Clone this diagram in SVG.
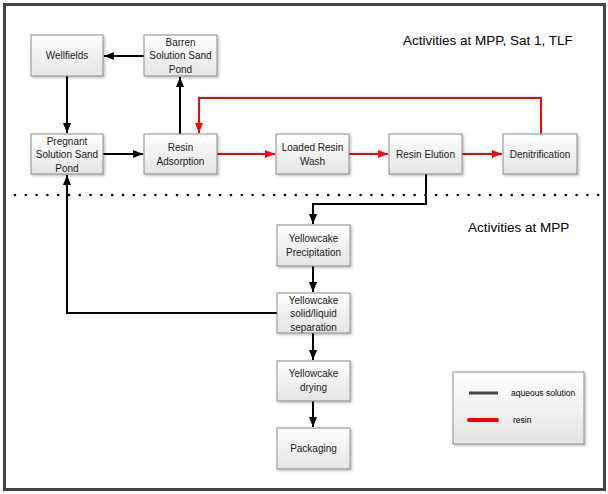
<svg xmlns="http://www.w3.org/2000/svg" width="608" height="494" viewBox="0 0 608 494">
<defs>
<linearGradient id="g" x1="0" y1="0" x2="0" y2="1"><stop offset="0" stop-color="#ffffff"/><stop offset="1" stop-color="#e4e4e4"/></linearGradient>
<marker id="ab" markerUnits="userSpaceOnUse" markerWidth="10" markerHeight="10" viewBox="0 0 10 10" refX="10" refY="5" orient="auto"><path d="M0,1 L10,5 L0,9 Z" fill="#000"/></marker>
<marker id="ar" markerUnits="userSpaceOnUse" markerWidth="10" markerHeight="10" viewBox="0 0 10 10" refX="10" refY="5" orient="auto"><path d="M0,1 L10,5 L0,9 Z" fill="#ff0000"/></marker>
<filter id="sh" x="-10%" y="-10%" width="130%" height="130%"><feDropShadow dx="1.5" dy="1.5" stdDeviation="1" flood-color="#000" flood-opacity="0.25"/></filter>
</defs>
<style>
.box{fill:url(#g);stroke:#8a8a8a;stroke-width:1;filter:url(#sh)}
.t{font-family:"Liberation Sans",Arial,sans-serif;font-size:10px;fill:#1a1a1a;text-anchor:middle}
.h{font-family:"Liberation Sans",Arial,sans-serif;font-size:13.5px;fill:#000}
.k{fill:none;stroke:#000;stroke-width:2}
.r{fill:none;stroke:#ff0000;stroke-width:2}
.lg{font-family:"Liberation Sans",Arial,sans-serif;font-size:8.5px;fill:#000}
</style>
<rect x="0" y="0" width="608" height="494" fill="#ffffff"/>
<rect x="4.5" y="4.5" width="600" height="485" fill="#ffffff" stroke="#444" stroke-width="3"/>
<line x1="15" y1="195" x2="600" y2="195" stroke="#000" stroke-width="2.6" stroke-linecap="round" stroke-dasharray="0 10.8"/>
<text class="h" x="403" y="45">Activities at MPP, Sat 1, TLF</text>
<text class="h" x="468" y="232">Activities at MPP</text>
<g id="connectors">
<path class="k" d="M144,56 H104" marker-end="url(#ab)"/>
<path class="k" d="M67,76 V133" marker-end="url(#ab)"/>
<path class="k" d="M103,154 H143" marker-end="url(#ab)"/>
<path class="k" d="M180,134 V77" marker-end="url(#ab)"/>
<path class="r" d="M217,154 H275" marker-end="url(#ar)"/>
<path class="r" d="M349,154 H388" marker-end="url(#ar)"/>
<path class="r" d="M462,154 H502" marker-end="url(#ar)"/>
<path class="r" d="M541,134 V98 H199 V133" marker-end="url(#ar)"/>
<path class="k" d="M426,174 V204 H313 V224" marker-end="url(#ab)"/>
<path class="k" d="M313,266 V292" marker-end="url(#ab)"/>
<path class="k" d="M277,313 H67 V175" marker-end="url(#ab)"/>
<path class="k" d="M313,333 V360" marker-end="url(#ab)"/>
<path class="k" d="M313,401 V427" marker-end="url(#ab)"/>
</g>
<g id="wellfields"><rect class="box" x="31" y="35" width="72" height="41"/><text class="t" x="67" y="59">Wellfields</text></g>
<g id="barren"><rect class="box" x="144" y="35" width="73" height="41"/><text class="t" x="180.5" y="45.5">Barren</text><text class="t" x="180.5" y="59">Solution Sand</text><text class="t" x="180.5" y="72.5">Pond</text></g>
<g id="pregnant"><rect class="box" x="31" y="134" width="72" height="40"/><text class="t" x="67" y="144.5">Pregnant</text><text class="t" x="67" y="158">Solution Sand</text><text class="t" x="67" y="171.5">Pond</text></g>
<g id="adsorption"><rect class="box" x="144" y="134" width="73" height="40"/><text class="t" x="180.5" y="151">Resin</text><text class="t" x="180.5" y="165">Adsorption</text></g>
<g id="wash"><rect class="box" x="276" y="134" width="73" height="40"/><text class="t" x="312.5" y="151">Loaded Resin</text><text class="t" x="312.5" y="165">Wash</text></g>
<g id="elution"><rect class="box" x="389" y="134" width="73" height="40"/><text class="t" x="425.5" y="158">Resin Elution</text></g>
<g id="denitrification"><rect class="box" x="503" y="134" width="74" height="40"/><text class="t" x="540" y="158">Denitrification</text></g>
<g id="precipitation"><rect class="box" x="277" y="225" width="73" height="41"/><text class="t" x="313.5" y="242">Yellowcake</text><text class="t" x="313.5" y="256">Precipitation</text></g>
<g id="separation"><rect class="box" x="277" y="293" width="73" height="40"/><text class="t" x="313.5" y="303.5">Yellowcake</text><text class="t" x="313.5" y="317">solid/liquid</text><text class="t" x="313.5" y="330.5">separation</text></g>
<g id="drying"><rect class="box" x="277" y="361" width="73" height="40"/><text class="t" x="313.5" y="377">Yellowcake</text><text class="t" x="313.5" y="391">drying</text></g>
<g id="packaging"><rect class="box" x="277" y="428" width="73" height="41"/><text class="t" x="313.5" y="452">Packaging</text></g>
<g id="legend"><rect class="box" x="453" y="372" width="131" height="72"/>
<line x1="469" y1="393" x2="498" y2="393" stroke="#444" stroke-width="3"/>
<line x1="469" y1="420" x2="497" y2="420" stroke="#ff0000" stroke-width="4" stroke-linecap="round"/>
<text class="lg" x="511" y="396">aqueous solution</text>
<text class="lg" x="513" y="423">resin</text></g>
</svg>
